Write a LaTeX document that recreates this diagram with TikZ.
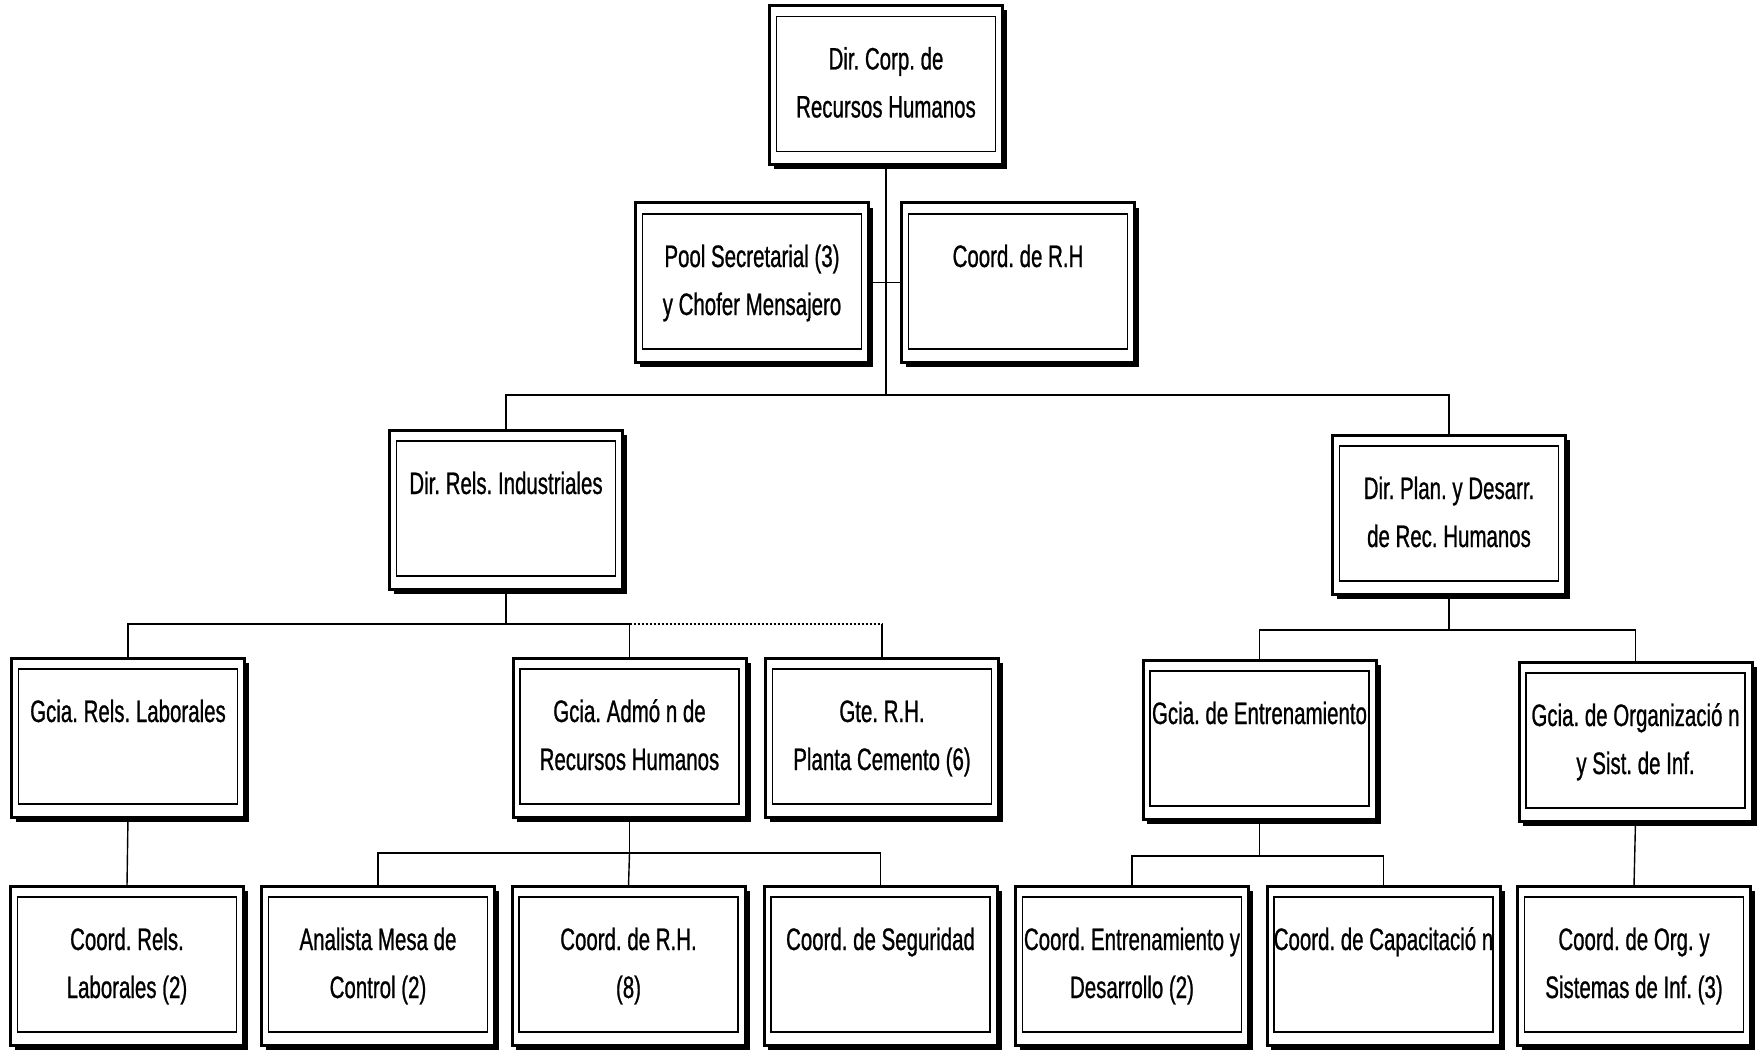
\documentclass[tikz,border=0pt]{standalone}
\usepackage{fontspec}
\setmainfont[FakeStretch=0.66,FakeBold=0.8]{Liberation Sans}
\newcommand\boxlabel[1]{\parbox[c][159pt][t]{233pt}{\centering\frenchspacing\fontsize{31}{48}\selectfont\rule{0pt}{64pt}#1\par}}
\tikzset{
  orgbox/.style={draw, line width=3pt, inner sep=0pt, outer sep=0pt,
    minimum width=233pt, minimum height=159pt, fill=white},
  link/.style={line width=1.4pt},
  dotlink/.style={line width=1.6pt, dash pattern=on 2pt off 2pt},
}
\begin{document}
\begin{tikzpicture}[x=1pt, y=-1pt]
\useasboundingbox[fill=white] (0,0) rectangle (1759,1051);

% level 1 and staff
\node[orgbox] (top)     at (886,85)    {\boxlabel{Dir. Corp. de\\Recursos Humanos}};
\node[orgbox] (pool)    at (752,282.5) {\boxlabel{Pool Secretarial (3)\\y Chofer Mensajero}};
\node[orgbox] (coordrh) at (1018,282.5){\boxlabel{Coord. de R.H}};

% directions
\node[orgbox] (dirrels) at (506,509.5)  {\boxlabel{Dir. Rels. Industriales}};
\node[orgbox] (dirplan) at (1449,514.5) {\boxlabel{Dir. Plan. y Desarr.\\de Rec. Humanos}};

% management
\node[orgbox] (gcrl) at (128,737.5)  {\boxlabel{Gcia. Rels. Laborales}};
\node[orgbox] (gadm) at (629.5,737.5){\boxlabel{Gcia. Admó n de\\Recursos Humanos}};
\node[orgbox] (gte)  at (882,737.5)  {\boxlabel{Gte. R.H.\\Planta Cemento (6)}};
\node[orgbox] (gent) at (1259.5,739.5){\boxlabel{Gcia. de Entrenamiento}};
\node[orgbox] (gorg) at (1635.5,741.5){\boxlabel{Gcia. de Organizació n\\y Sist. de Inf.}};

% coordinators
\node[orgbox] (ccrl) at (127,965.5)   {\boxlabel{Coord. Rels.\\Laborales (2)}};
\node[orgbox] (ana)  at (378,965.5)   {\boxlabel{Analista Mesa de\\Control (2)}};
\node[orgbox] (crh8) at (628.5,965.5) {\boxlabel{Coord. de R.H.\\(8)}};
\node[orgbox] (cseg) at (880.5,965.5) {\boxlabel{Coord. de Seguridad}};
\node[orgbox] (cent) at (1132,965.5)  {\boxlabel{Coord. Entrenamiento y\\Desarrollo (2)}};
\node[orgbox] (ccap) at (1383.5,965.5){\boxlabel{Coord. de Capacitació n}};
\node[orgbox] (corg) at (1634,965.5)  {\boxlabel{Coord. de Org. y\\Sistemas de Inf. (3)}};

% inner frame and heavy lower-right edge of every box
\foreach \n in {top,pool,coordrh,dirrels,dirplan,gcrl,gadm,gte,gent,gorg,ccrl,ana,crh8,cseg,cent,ccap,corg}{
  \draw[line width=1.1pt] ([shift={(7,11)}]\n.north west) rectangle ([shift={(-7,-13)}]\n.south east);
  \draw[line width=3pt] ([shift={(4,3)}]\n.south west) -- ([shift={(3,3)}]\n.south east) -- ([shift={(3,5)}]\n.north east);
}

% bus junctions
\coordinate (b1) at (886,395);
\coordinate (b2) at (506,624);
\coordinate (b3) at (1449,630);
\coordinate (b4) at (629.5,853);
\coordinate (b5) at (1259.5,856);

% connectors
\draw[link] (top.south) -- (b1);
\draw[link] (pool.east) -- (coordrh.west);
\draw[link] (dirrels.north) |- (b1) -| (dirplan.north);

\draw[link] (dirrels.south) -- (b2);
\draw[link] (gcrl.north) |- (b2) -| (gadm.north);
\draw[dotlink] (gadm.north |- b2) -- (gte.north |- b2);
\draw[link] (gte.north |- b2) -- (gte.north);

\draw[link] (dirplan.south) -- (b3);
\draw[link] (gent.north) |- (b3) -| (gorg.north);

\draw[link] (gcrl.south) -- (ccrl.north);
\draw[link] (gadm.south) -- (b4);
\draw[link] (ana.north) |- (b4) -| (cseg.north);
\draw[link] (b4) -- (crh8.north);

\draw[link] (gent.south) -- (b5);
\draw[link] (cent.north) |- (b5) -| (ccap.north);
\draw[link] (gorg.south) -- (corg.north);
\end{tikzpicture}
\end{document}
